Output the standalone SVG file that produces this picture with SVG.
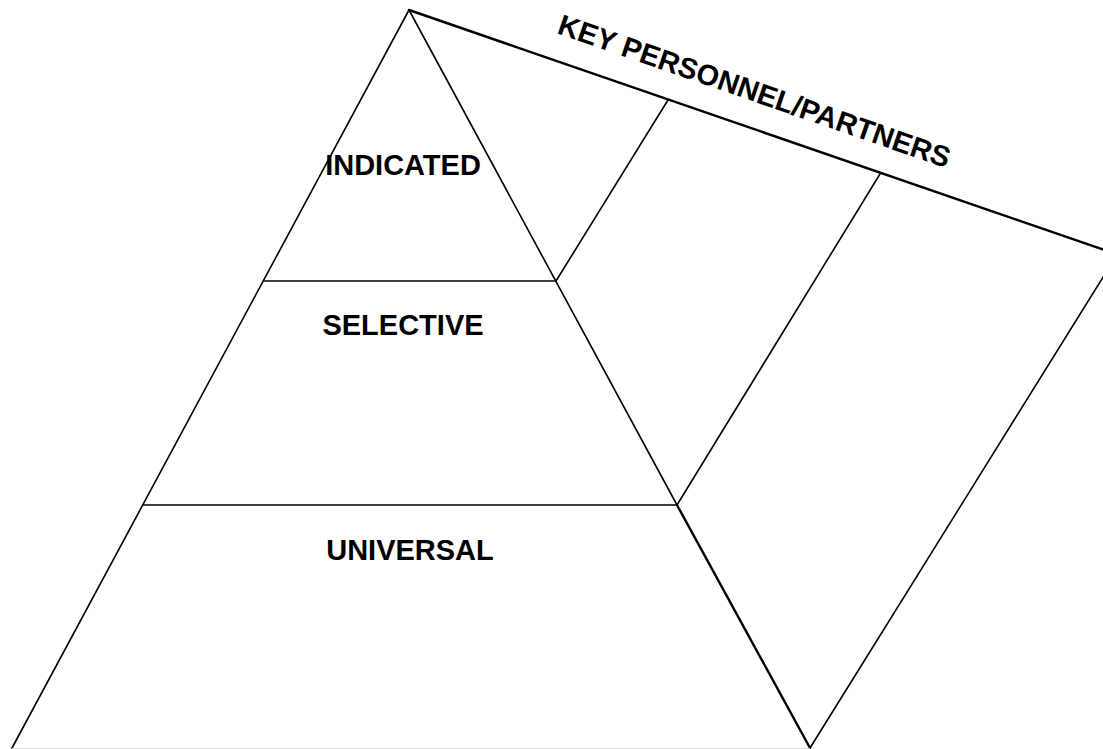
<svg xmlns="http://www.w3.org/2000/svg" width="1103" height="749" viewBox="0 0 1103 749">
<style>
.ln{stroke:#000;stroke-width:1.6;fill:none;stroke-linecap:round}
.thick{stroke-width:2.4}
.lbl{font-family:"Liberation Sans",Arial,sans-serif;font-weight:bold;font-size:29px;fill:#000;text-anchor:middle}
.ttl{font-family:"Liberation Sans",Arial,sans-serif;font-weight:bold;font-size:29px;fill:#000}
</style>
<rect width="1103" height="749" fill="#fff"/>
<g id="connectors">
<line class="ln" x1="409" y1="10" x2="12" y2="748"/>
<line class="ln" x1="409" y1="10" x2="677" y2="505"/>
<line class="ln thick" x1="677" y1="505" x2="810" y2="748"/>
<line class="ln thick" x1="409" y1="10" x2="1110" y2="252"/>
<line class="ln" x1="263" y1="281" x2="556" y2="281"/>
<line class="ln" x1="143" y1="505" x2="677" y2="505"/>
<line class="ln" x1="556" y1="281" x2="668" y2="100"/>
<line class="ln" x1="677" y1="505" x2="880" y2="174"/>
<line class="ln" x1="810" y1="748" x2="1110" y2="266"/>
<line x1="12" y1="748.5" x2="810" y2="748.5" stroke="#d8d8d8" stroke-width="1"/>
</g>
<g id="indicated"><text class="lbl" x="403" y="175">INDICATED</text></g>
<g id="selective"><text class="lbl" x="403" y="335">SELECTIVE</text></g>
<g id="universal"><text class="lbl" x="410" y="560">UNIVERSAL</text></g>
<g id="title"><text class="ttl" transform="translate(556,33) rotate(19.1)">KEY PERSONNEL/PARTNERS</text></g>
</svg>
